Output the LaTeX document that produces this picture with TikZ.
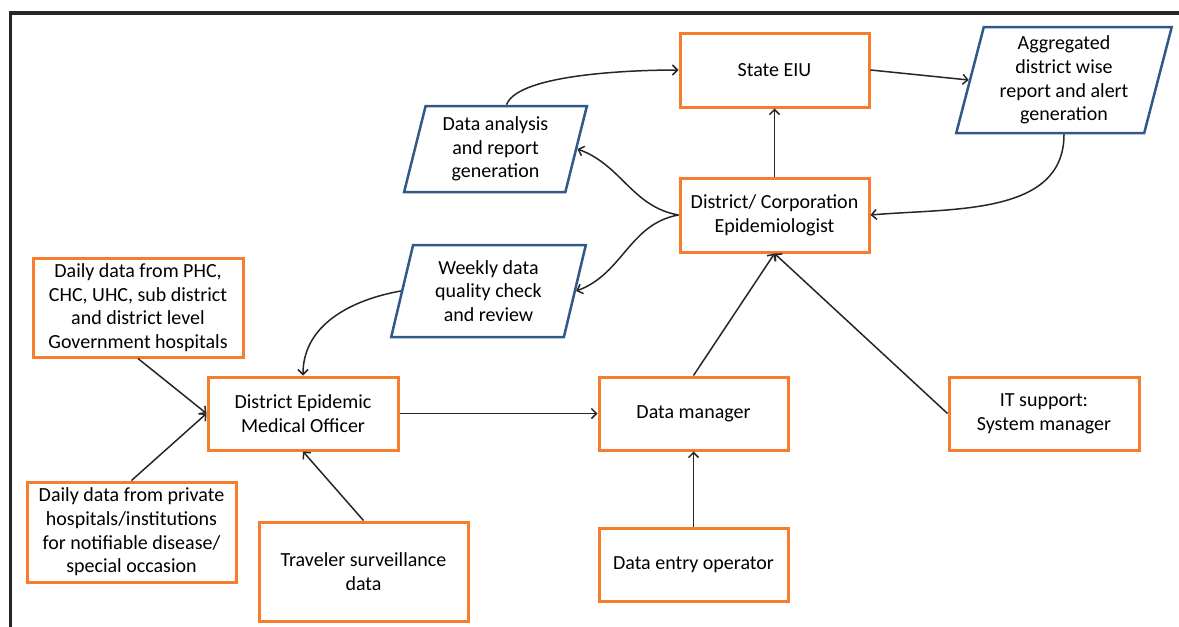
\documentclass[tikz,border=0pt]{standalone}
\usepackage{fontspec}
\setmainfont{Carlito}
\usetikzlibrary{calc}
\usetikzlibrary{arrows.meta}
\usetikzlibrary{shapes.geometric}
\definecolor{orangecadre}{RGB}{245,125,45}
\definecolor{bleucadre}{RGB}{50,88,135}

\begin{document}
\begin{tikzpicture}[x=1pt,y=1pt,
    boite/.style={draw=orangecadre, line width=3pt, rectangle, align=center, inner sep=2pt, text=black},
    donnee/.style={draw=bleucadre, line width=2.5pt, trapezium, trapezium left angle=76,
        trapezium right angle=104, trapezium stretches=true, align=center, inner sep=1pt, text=black},
    fleche/.style={->, line width=1.5pt, draw=black!85},
    >={Straight Barb[length=5pt,width=10pt]},
    font=\fontsize{20}{23.6}\selectfont]

\useasboundingbox (0,0) rectangle (1179,-627);

%cadre
\draw[black!85, line width=3.5pt] (10.5,-627) -- (10.5,-13) -- (1179,-13);

%boites oranges
\node[boite, minimum width=189, minimum height=74] (eiu) at (774.5,-70) {State EIU};
\node[boite, minimum width=189, minimum height=74] (dce) at (774.5,-215) {District/ Corporation\\Epidemiologist};
\node[boite, minimum width=210, minimum height=99] (phc) at (138,-307.5) {Daily data from PHC,\\CHC, UHC, sub district\\and district level\\Government hospitals};
\node[boite, minimum width=190, minimum height=73] (demo) at (303,-413.5) {District Epidemic\\Medical Officer};
\node[boite, minimum width=209, minimum height=100] (priv) at (131.5,-532) {Daily data from private\\hospitals/institutions\\for notifiable disease/\\special occasion};
\node[boite, minimum width=209, minimum height=99] (trav) at (363.5,-571.5) {Traveler surveillance\\data};
\node[boite, minimum width=189, minimum height=73] (dm) at (693.5,-413.5) {Data manager};
\node[boite, minimum width=189, minimum height=73] (deo) at (693.5,-564.5) {Data entry operator};
\node[boite, minimum width=190, minimum height=73] (it) at (1044,-413.5) {IT support:\\System manager};

%parallelogrammes bleus
\node[donnee, minimum width=183, minimum height=86] (danal) at (495.5,-149) {Data analysis\\and report\\generation};
\node[donnee, minimum width=216, minimum height=106] (agg) at (1064,-80) {Aggregated\\district wise\\report and alert\\generation};
\node[donnee, minimum width=195, minimum height=92] (weekly) at (488.5,-291) {Weekly data\\quality check\\and review};

%fleches
\draw[fleche] ([xshift=11]danal.north) to[out=70,in=180,looseness=0.5] (eiu.west);
\draw[fleche] (eiu.east) -- (agg.west);
\draw[fleche] (agg.south) to[out=-90,in=5] (dce.east);
\draw[fleche] (dce.north) -- (eiu.south);
\draw[fleche] (dce.west) to[out=170,in=-20] (danal.east);
\draw[fleche] (dce.west) to[out=190,in=20] (weekly.east);
\draw[fleche] (weekly.west) to[out=190,in=90] (demo.north);
\draw[fleche] (phc.south) -- (demo.west);
\draw[fleche] (priv.north) -- (demo.west);
\draw[fleche] (trav.north) -- (demo.south);
\draw[fleche] (demo.east) -- (dm.west);
\draw[fleche] (deo.north) -- (dm.south);
\draw[fleche] (dm.north) -- (dce.south);
\draw[fleche] (it.west) -- (dce.south);

\end{tikzpicture}
\end{document}
